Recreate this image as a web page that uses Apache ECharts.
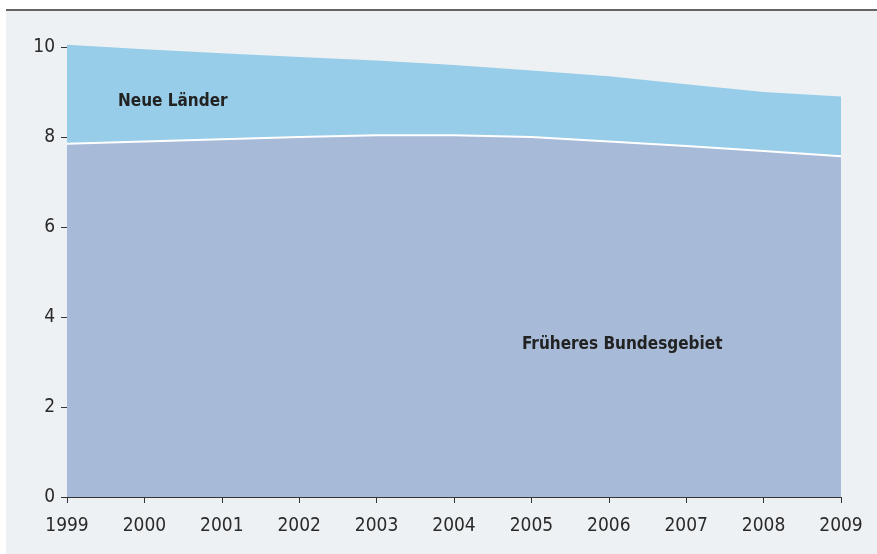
<!DOCTYPE html>
<html>
<head>
<meta charset="utf-8">
<script src="https://cdn.jsdelivr.net/npm/echarts@6/dist/echarts.min.js"></script>
<style>
  html, body { margin: 0; padding: 0; background: #fff; }
  #chart { width: 877px; height: 554px; }
</style>
</head>
<body>
<div id="chart"></div>
<script>
// Jahre
var years = ['1999', '2000', '2001', '2002', '2003', '2004', '2005', '2006', '2007', '2008', '2009'];
// Früheres Bundesgebiet (unten)
var westValues = [7.85, 7.90, 7.95, 8.00, 8.04, 8.04, 8.00, 7.90, 7.80, 7.69, 7.57];
// Neue Länder (oben gestapelt)
var eastValues = [2.20, 2.05, 1.91, 1.78, 1.66, 1.56, 1.48, 1.45, 1.37, 1.31, 1.33];
var yTicks = [0, 2, 4, 6, 8, 10];

var font = 'DejaVu Sans Condensed';

var chart = echarts.init(document.getElementById('chart'));
var option = {
    animation: false,
    graphic: [
        { type: 'rect', z: -10, shape: { x: 6, y: 10, width: 871, height: 544 }, style: { fill: '#edf1f4' } },
        { type: 'line', z: 10, shape: { x1: 6, y1: 10, x2: 877, y2: 10 }, style: { stroke: '#333', lineWidth: 1.5 } },
        { type: 'text', z: 10, left: 118, top: 93, style: { text: 'Neue Länder', fill: '#222', font: 'bold 17px ' + font } },
        { type: 'text', z: 10, left: 522, top: 336, style: { text: 'Früheres Bundesgebiet', fill: '#222', font: 'bold 17px ' + font } }
    ],
    grid: { left: 67, right: 36, top: 47, bottom: 57 },
    xAxis: {
        type: 'category',
        data: years,
        boundaryGap: false,
        axisLine: { show: true, lineStyle: { color: '#333', width: 1 } },
        axisTick: { show: true, length: 6, lineStyle: { color: '#333' } },
        axisLabel: { color: '#2a2a2a', fontFamily: font, fontSize: 19, margin: 20 }
    },
    yAxis: {
        type: 'value',
        min: yTicks[0],
        max: yTicks[yTicks.length - 1],
        interval: 2,
        splitLine: { show: false },
        axisLine: { show: true, lineStyle: { color: '#333', width: 1 } },
        axisTick: { show: true, length: 6, lineStyle: { color: '#333' } },
        axisLabel: { color: '#2a2a2a', fontFamily: font, fontSize: 19, margin: 12 }
    },
    series: [
        {
            name: 'Früheres Bundesgebiet',
            type: 'line',
            stack: 'total',
            data: westValues,
            symbol: 'none',
            clip: false,
            lineStyle: { color: '#ffffff', width: 2 },
            areaStyle: { color: '#a7bbd8', opacity: 1 },
            z: 3
        },
        {
            name: 'Neue Länder',
            type: 'line',
            stack: 'total',
            data: eastValues,
            symbol: 'none',
            clip: false,
            lineStyle: { width: 0 },
            areaStyle: { color: '#97cde8', opacity: 1 },
            z: 2
        }
    ]
};
chart.setOption(option);
</script>
</body>
</html>
